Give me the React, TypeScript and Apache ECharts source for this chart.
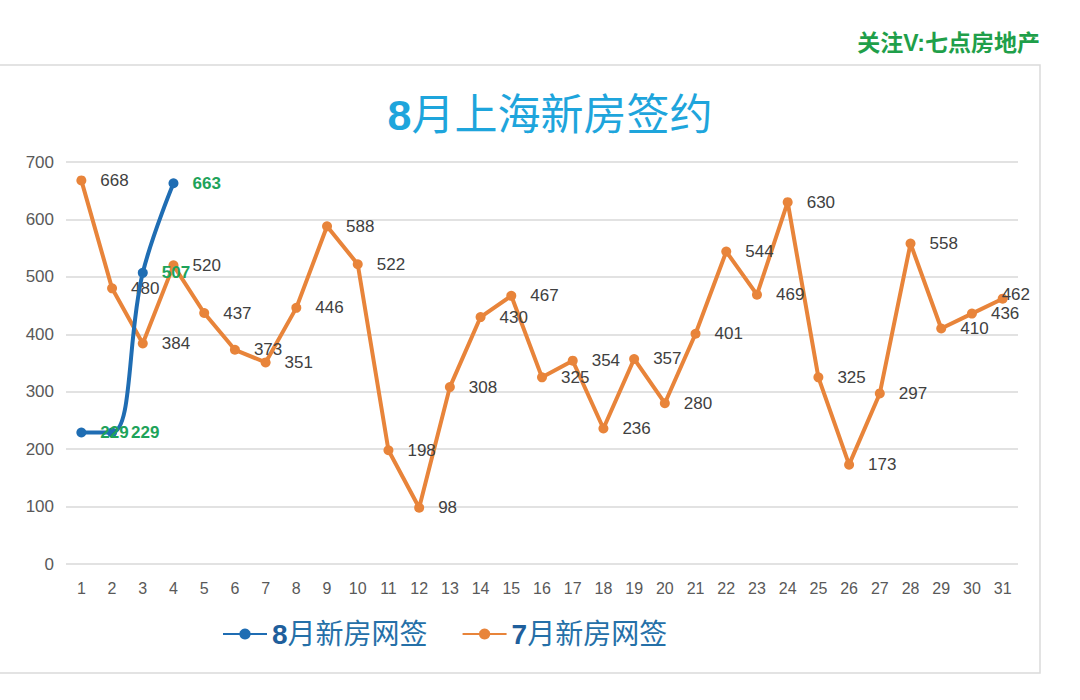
import React, { useEffect, useRef } from "react";
import * as echarts from "echarts";

const days = Array.from({ length: 31 }, (_, i) => String(i + 1));
const augustValues = [229, 229, 507, 663];
const julyValues = [
  668, 480, 384, 520, 437, 373, 351, 446, 588, 522, 198, 98, 308, 430, 467, 325,
  354, 236, 357, 280, 401, 544, 469, 630, 325, 173, 297, 558, 410, 436, 462,
];
const seriesNames = ["8月新房网签", "7月新房网签"];
const chartTitle = "8月上海新房签约";
const watermark = "关注V:七点房地产";

const FONT = "'Liberation Sans', 'Noto Sans CJK SC', sans-serif";

export default function App() {
  const ref = useRef<HTMLDivElement>(null);
  useEffect(() => {
    if (!ref.current) return;
    const chart = echarts.init(ref.current, null, { renderer: "svg" });
    const julyData = julyValues.map((v, i) =>
      i === julyValues.length - 1 ? { value: v, label: { offset: [-20, -4] } } : v
    );
    chart.setOption({
      animation: false,
      backgroundColor: "#ffffff",
      textStyle: { fontFamily: FONT },
      title: {
        text: `{b|${chartTitle.slice(0, 1)}}{n|${chartTitle.slice(1)}}`,
        left: 545,
        textAlign: "center",
        top: 88,
        textStyle: {
          color: "#1ea5dc",
          fontSize: 43,
          fontWeight: "normal",
          fontFamily: FONT,
          rich: {
            b: { fontSize: 43, fontWeight: "bold", color: "#1ea5dc", fontFamily: FONT },
            n: { fontSize: 43, fontWeight: "normal", color: "#1ea5dc", fontFamily: FONT },
          },
        },
      },
      graphic: [
        {
          type: "rect",
          z: -10,
          shape: { x: -2, y: 65, width: 1042, height: 608 },
          style: { fill: "#ffffff", stroke: "#dadada", lineWidth: 1.5 },
        },
        {
          type: "text",
          right: 40,
          top: 31,
          style: {
            text: watermark,
            fill: "#1f9f4a",
            font: `bold 23px ${FONT}`,
          },
        },
      ],
      legend: {
        left: 217,
        top: 615,
        itemWidth: 44,
        itemHeight: 14,
        itemGap: 34,
        data: seriesNames,
        formatter: (name: string) => `{b|${name.slice(0, 1)}}{n|${name.slice(1)}}`,
        textStyle: {
          color: "#1f6aa5",
          fontSize: 28,
          rich: {
            b: { fontSize: 28, fontWeight: "bold", color: "#1f5f9c", fontFamily: FONT },
            n: { fontSize: 28, fontWeight: "normal", color: "#2570a8", fontFamily: FONT },
          },
        },
      },
      grid: { left: 66, right: 62, top: 162, bottom: 136 },
      xAxis: {
        type: "category",
        data: days,
        boundaryGap: true,
        axisLine: { show: false },
        axisTick: { show: false },
        axisLabel: { color: "#595959", fontSize: 16, margin: 16, fontFamily: FONT },
      },
      yAxis: {
        type: "value",
        min: 0,
        max: 700,
        interval: 100,
        axisLine: { show: false },
        axisTick: { show: false },
        splitLine: { lineStyle: { color: "#d9d9d9", width: 1.5 } },
        axisLabel: { color: "#595959", fontSize: 17, margin: 12, fontFamily: FONT },
      },
      series: [
        {
          name: seriesNames[0],
          type: "line",
          data: augustValues,
          smooth: 0.4,
          symbol: "circle",
          symbolSize: 10,
          z: 3,
          itemStyle: { color: "#1f6db3" },
          lineStyle: { color: "#1f6db3", width: 4 },
          label: {
            show: true,
            position: "right",
            distance: 14,
            color: "#1ea35a",
            fontSize: 17,
            fontWeight: "bold",
            fontFamily: FONT,
          },
        },
        {
          name: seriesNames[1],
          type: "line",
          data: julyData,
          symbol: "circle",
          symbolSize: 10,
          z: 2,
          itemStyle: { color: "#e8843a" },
          lineStyle: { color: "#e8843a", width: 4 },
          label: {
            show: true,
            position: "right",
            distance: 14,
            color: "#404040",
            fontSize: 17,
            fontFamily: FONT,
          },
        },
      ],
    });
    return () => chart.dispose();
  }, []);
  return (
    <div
      ref={ref}
      style={{ position: "fixed", left: 0, top: 0, width: 1080, height: 700 }}
    />
  );
}
